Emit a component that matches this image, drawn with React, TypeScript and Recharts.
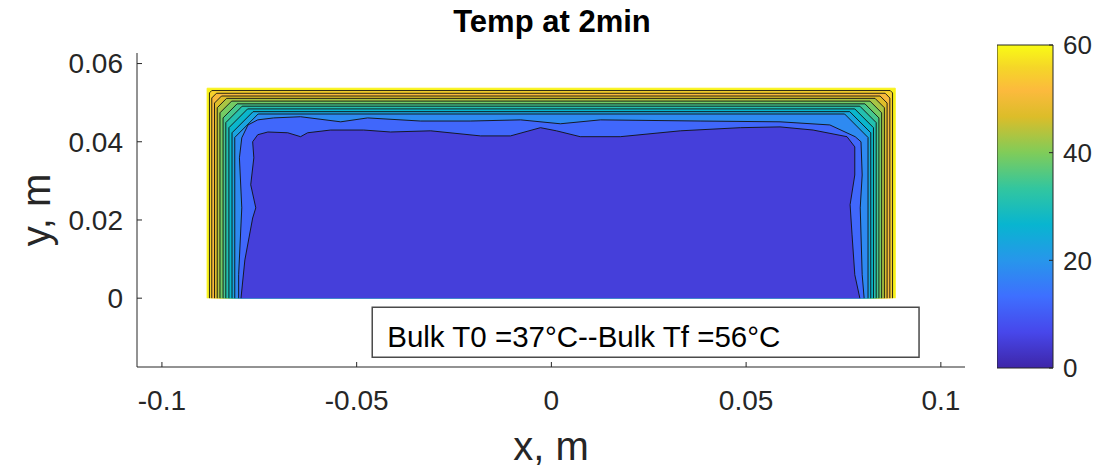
import React from 'react';
import { ComposedChart, Scatter, XAxis, YAxis, ReferenceArea, BarChart, Bar } from 'recharts';

const FONT = '"Liberation Sans", Arial, Helvetica, sans-serif';
const AXIS_COLOR = '#262626';
const LINE_COLOR = '#111111';

// ---------- axes ----------
const xTicks = [-0.1, -0.05, 0, 0.05, 0.1];
const yTicks = [0, 0.02, 0.04, 0.06];
const xDomain: [number, number] = [-0.1064, 0.1062];
const yDomain: [number, number] = [-0.0176, 0.0627];
const colorbarTicks = [0, 20, 40, 60];
const colorbarDomain: [number, number] = [0, 60];

// ---------- texts ----------
const title = 'Temp at 2min';
const xLabel = 'x, m';
const yLabel = 'y, m';
const annotation = 'Bulk T0 =37\u00b0C--Bulk Tf =56\u00b0C';
const annotationX = [-0.046, 0.0944];
const annotationY = [-0.0151, -0.0023];

// ---------- temperature field (contour levels) ----------
const plateLeft = -0.0884;
const plateRight = 0.0883;
const plateTop = 0.0537;
const plateValue = 59;

// outer, nearly straight contour lines (outermost first)
const levelLeft = [-0.0878, -0.0872, -0.0865, -0.0858, -0.0851, -0.0843, -0.0836, -0.0828, -0.082, -0.0813];
const levelRight = [0.0876, 0.0869, 0.0862, 0.0855, 0.0848, 0.0841, 0.0834, 0.0827, 0.082, 0.0813];
const levelTop = [0.0531, 0.0524, 0.0517, 0.0511, 0.0504, 0.0497, 0.0491, 0.0484, 0.0477, 0.0471];
const levelCorner = [0.0006, 0.0012, 0.0018, 0.0024, 0.003, 0.0036, 0.0042, 0.0048, 0.0054, 0.006];
const levelValue = [55, 51, 47, 43, 39, 35, 31, 27, 23, 18];

// second innermost contour
const secondX = [-0.0803, -0.0803, -0.0795, -0.0801, -0.0795, -0.0779, -0.0754, -0.0713, -0.0644, -0.0541, -0.0472, -0.0336, -0.0208, -0.0079, 0.0023, 0.0126, 0.0382, 0.0587, 0.0715, 0.078, 0.0795, 0.0798, 0.0793, 0.0798, 0.0803];
const secondY = [0, 0.006, 0.0231, 0.0359, 0.041, 0.0443, 0.0456, 0.0461, 0.0464, 0.0451, 0.0461, 0.0453, 0.0453, 0.0456, 0.0446, 0.0456, 0.0453, 0.0451, 0.0443, 0.0413, 0.04, 0.0315, 0.0231, 0.006, 0];
const secondValue = 12;

// innermost contour
const innerX = [-0.0797, -0.0787, -0.0767, -0.0759, -0.0772, -0.0764, -0.0767, -0.0754, -0.0728, -0.0677, -0.0644, -0.0626, -0.0567, -0.0482, -0.0413, -0.031, -0.0182, -0.0105, -0.0028, 0.0013, 0.0074, 0.0177, 0.0331, 0.0485, 0.0587, 0.0672, 0.0759, 0.0779, 0.0779, 0.0767, 0.0772, 0.0779, 0.0792];
const innerY = [0, 0.0098, 0.0205, 0.0231, 0.029, 0.0359, 0.04, 0.0418, 0.0425, 0.0423, 0.0413, 0.0423, 0.043, 0.043, 0.0425, 0.0428, 0.0415, 0.0415, 0.0436, 0.0428, 0.0413, 0.0413, 0.0428, 0.0436, 0.0438, 0.043, 0.0413, 0.0387, 0.0315, 0.0239, 0.0162, 0.006, 0];
const innerValue = 5;

// ---------- parula colormap ----------
const PARULA_STOPS: [number, number, number, number][] = [
  [0.0, 62, 38, 168],
  [0.111, 71, 71, 235],
  [0.222, 62, 111, 255],
  [0.333, 39, 150, 235],
  [0.444, 8, 181, 208],
  [0.556, 50, 198, 159],
  [0.667, 128, 204, 89],
  [0.778, 220, 189, 41],
  [0.86, 252, 186, 61],
  [0.93, 245, 214, 40],
  [1.0, 249, 251, 21],
];

function parulaT(t: number): string {
  const tt = Math.max(0, Math.min(1, t));
  for (let i = 0; i < PARULA_STOPS.length - 1; i++) {
    const a = PARULA_STOPS[i];
    const b = PARULA_STOPS[i + 1];
    if (tt >= a[0] && tt <= b[0]) {
      const f = (tt - a[0]) / (b[0] - a[0]);
      const r = Math.round(a[1] + (b[1] - a[1]) * f);
      const g = Math.round(a[2] + (b[2] - a[2]) * f);
      const bl = Math.round(a[3] + (b[3] - a[3]) * f);
      return `rgb(${r},${g},${bl})`;
    }
  }
  return 'rgb(249,251,21)';
}
const parula = (v: number) => parulaT((v - colorbarDomain[0]) / (colorbarDomain[1] - colorbarDomain[0]));

type Pt = { x: number; y: number };

const platePolygon: Pt[] = [
  { x: plateLeft, y: 0 },
  { x: plateLeft, y: plateTop },
  { x: plateRight, y: plateTop },
  { x: plateRight, y: 0 },
];

const levelPolygons: Pt[][] = levelLeft.map((L, k) => {
  const R = levelRight[k];
  const T = levelTop[k];
  const c = levelCorner[k];
  return [
    { x: L, y: 0 },
    { x: L, y: T - c },
    { x: L + c, y: T },
    { x: R - c, y: T },
    { x: R, y: T - c },
    { x: R, y: 0 },
  ];
});

const secondPolygon: Pt[] = secondX.map((x, i) => ({ x, y: secondY[i] }));
const innerPolygon: Pt[] = innerX.map((x, i) => ({ x, y: innerY[i] }));

const noPoint = () => <g />;

const renderXLabel = (props: any) => {
  const vb = props && props.viewBox ? props.viewBox : { x: 137, y: 367, width: 828, height: 102 };
  return (
    <text x={vb.x + vb.width / 2} y={vb.y + 93} textAnchor="middle" fontSize={40} fill={AXIS_COLOR} fontFamily={FONT}>
      {xLabel}
    </text>
  );
};

const renderYLabel = (props: any) => {
  const vb = props && props.viewBox ? props.viewBox : { x: 0, y: 53, width: 137, height: 314 };
  const cx = vb.x + 50;
  const cy = vb.y + vb.height / 2;
  return (
    <text x={cx} y={cy} transform={`rotate(-90, ${cx}, ${cy})`} textAnchor="middle" fontSize={40} fill={AXIS_COLOR} fontFamily={FONT}>
      {yLabel}
    </text>
  );
};

const renderAnnotation = (props: any) => {
  const vb = props && props.viewBox ? props.viewBox : { x: 372, y: 307, width: 547, height: 50 };
  return (
    <text x={vb.x + 15} y={vb.y + vb.height / 2 + 15} fontSize={29.5} fill="#000" fontFamily={FONT}>
      {annotation}
    </text>
  );
};

const colorbarData = [{ name: 'T', v: colorbarDomain[1] }];

export default function App() {
  const bands = [
    { pts: platePolygon, value: plateValue, stroke: parula(plateValue) },
    ...levelPolygons.map((pts, k) => ({ pts, value: levelValue[k], stroke: LINE_COLOR })),
    { pts: secondPolygon, value: secondValue, stroke: LINE_COLOR },
    { pts: innerPolygon, value: innerValue, stroke: LINE_COLOR },
  ];

  return (
    <div style={{ position: 'absolute', left: 0, top: 0, width: 1110, height: 469, background: '#fff', fontFamily: FONT, overflow: 'hidden' }}>
      <div style={{ position: 'absolute', left: 0, top: 0 }}>
        <ComposedChart width={1110} height={469} margin={{ top: 53, right: 145, bottom: 0, left: 0 }}>
          <XAxis
            type="number"
            dataKey="x"
            domain={xDomain}
            ticks={xTicks}
            interval={0}
            allowDataOverflow
            height={102}
            tickSize={-5}
            tickMargin={28}
            axisLine={{ stroke: AXIS_COLOR, strokeWidth: 1 }}
            tickLine={{ stroke: AXIS_COLOR, strokeWidth: 1 }}
            tick={{ fill: AXIS_COLOR, fontSize: 28, fontFamily: FONT }}
            label={renderXLabel}
          />
          <YAxis
            type="number"
            dataKey="y"
            domain={yDomain}
            ticks={yTicks}
            interval={0}
            allowDataOverflow
            width={137}
            tickSize={-5}
            tickMargin={19}
            axisLine={{ stroke: AXIS_COLOR, strokeWidth: 1 }}
            tickLine={{ stroke: AXIS_COLOR, strokeWidth: 1 }}
            tick={{ fill: AXIS_COLOR, fontSize: 28, fontFamily: FONT }}
            label={renderYLabel}
          />
          {bands.map((b, i) => (
            <Scatter
              key={i}
              data={b.pts}
              line={{ stroke: b.stroke, strokeWidth: 0.9, fill: parula(b.value) }}
              lineJointType="linear"
              shape={noPoint}
              isAnimationActive={false}
            />
          ))}
          <ReferenceArea
            x1={annotationX[0]}
            x2={annotationX[1]}
            y1={annotationY[0]}
            y2={annotationY[1]}
            fill="#ffffff"
            fillOpacity={1}
            stroke="#4a4a4a"
            strokeWidth={1.5}
            label={renderAnnotation}
          />
        </ComposedChart>
      </div>
      <div style={{ position: 'absolute', left: 0, top: 6, width: 1104, textAlign: 'center', fontSize: 31, fontWeight: 'bold', lineHeight: '31px', color: '#000', fontFamily: FONT }}>
        {title}
      </div>
      <div style={{ position: 'absolute', left: 997, top: 0 }}>
        <BarChart width={113} height={469} data={colorbarData} margin={{ top: 45, right: 0, bottom: 101, left: 0 }} barCategoryGap={0}>
          <defs>
            <linearGradient id="parulaGrad" x1="0" y1="1" x2="0" y2="0">
              {PARULA_STOPS.map((s, i) => (
                <stop key={i} offset={`${s[0] * 100}%`} stopColor={`rgb(${s[1]},${s[2]},${s[3]})`} />
              ))}
            </linearGradient>
          </defs>
          <XAxis dataKey="name" hide />
          <YAxis
            orientation="right"
            type="number"
            domain={colorbarDomain}
            ticks={colorbarTicks}
            interval={0}
            width={57}
            axisLine={false}
            tickSize={-4}
            tickMargin={14}
            tickLine={{ stroke: AXIS_COLOR, strokeWidth: 1 }}
            tick={{ fill: AXIS_COLOR, fontSize: 26, fontFamily: FONT }}
          />
          <Bar dataKey="v" fill="url(#parulaGrad)" stroke={AXIS_COLOR} strokeWidth={1} isAnimationActive={false} />
        </BarChart>
      </div>
    </div>
  );
}
